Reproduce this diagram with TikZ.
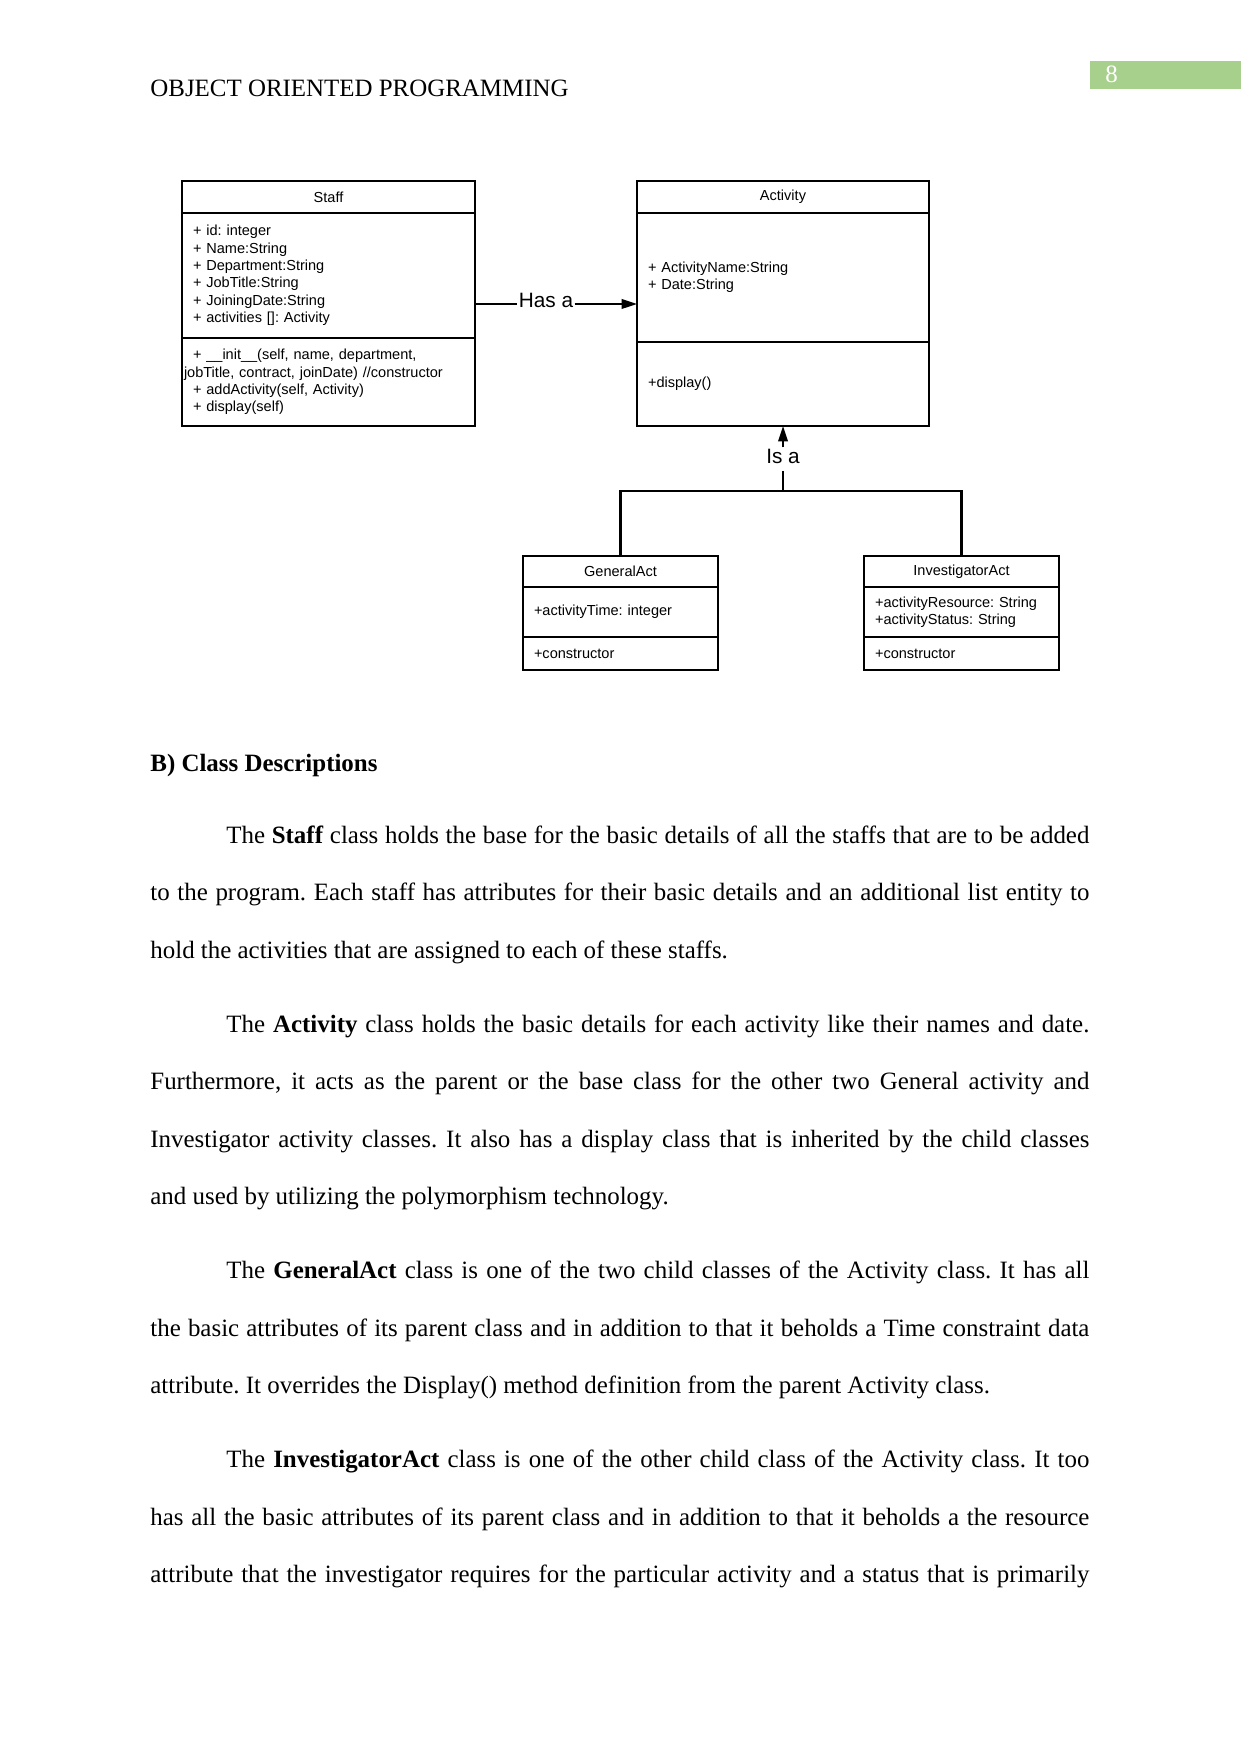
\documentclass[tikz,border=0pt]{standalone}
\usepackage{fontspec}
\setmainfont{Liberation Serif}
\newfontfamily\umlfont{Liberation Sans}
\usetikzlibrary{arrows.meta, positioning}
\definecolor{pagegreen}{HTML}{A8D08D}
\newlength{\pxu}
\setlength{\pxu}{0.0169218cm}
\frenchspacing

\begin{document}
\begin{tikzpicture}[
    x=\pxu, y=-\pxu,
    uml/.style={draw, line width=1pt, outer sep=0pt, inner ysep=0pt, font=\umlfont\fontsize{7}{8.4}\selectfont},
    head/.style={uml, align=center, inner xsep=0pt},
    part/.style={uml, align=left, inner xsep=11\pxu, text width=#1},
    rel/.style={font=\umlfont\fontsize{10}{12}\selectfont, inner sep=0.5pt},
    line/.style={line width=1pt},
    relarrow/.style={line, -{Triangle[length=2.6mm, width=1.6mm]}},
    txt/.style={font=\fontsize{12}{14.4}\selectfont, inner sep=0pt, anchor=base west}
  ]
  \useasboundingbox (0,0) rectangle (1241,1754);

  \fill[pagegreen] (1090,61) rectangle (1241,89);
  \node[txt, text=white] (pagenum) at (1105,83) {8};
  \node[txt] (runhead) at (150,97) {OBJECT ORIENTED PROGRAMMING};

  \node[head, minimum width=293\pxu, minimum height=32\pxu, anchor=north west] (staff) at (182,181) {Staff};
  \node[part=271\pxu, minimum height=125\pxu, below=0pt of staff] (staffattr) {+ id: integer\\+ Name:String\\+ Department:String\\+ JobTitle:String\\+ JoiningDate:String\\+ activities []: Activity};
  \node[part=271\pxu, minimum height=88\pxu, below=0pt of staffattr] (staffops) {+ \_\_init\_\_(self, name, department,\\\hspace*{-9\pxu}jobTitle, contract, joinDate) //constructor\\+ addActivity(self, Activity)\\+ display(self)};

  \node[head, minimum width=292\pxu, minimum height=32\pxu, anchor=north west] (act) at (637,181) {Activity};
  \node[part=270\pxu, minimum height=129\pxu, below=0pt of act] (actattr) {+ ActivityName:String\\+ Date:String};
  \node[part=270\pxu, minimum height=84\pxu, below=0pt of actattr] (actops) {+display()};

  \node[head, minimum width=195\pxu, minimum height=31\pxu, anchor=north west] (gen) at (523,556) {GeneralAct};
  \node[part=173\pxu, minimum height=50\pxu, below=0pt of gen] (genattr) {+activityTime: integer};
  \node[part=173\pxu, minimum height=33\pxu, below=0pt of genattr] (genops) {+constructor};

  \node[head, minimum width=195\pxu, minimum height=31\pxu, anchor=north west] (inv) at (864,556) {InvestigatorAct};
  \node[part=173\pxu, minimum height=50\pxu, below=0pt of inv] (invattr) {+activityResource: String\\+activityStatus: String};
  \node[part=173\pxu, minimum height=33\pxu, below=0pt of invattr] (invops) {+constructor};

  \node[rel] (hasa) at (546,300) {Has a};
  \coordinate (hasy) at (0,304);
  \draw[line] (staffattr.east |- hasy) -- (hasa.west |- hasy);
  \draw[relarrow] (hasa.east |- hasy) -- (actattr.west |- hasy);

  \node[rel] (isa) at (783,456) {Is a};
  \coordinate (fork) at (783,491);
  \draw[relarrow] (isa.north) -- (actops.south);
  \draw[line] ([yshift=-3pt]isa.south) -- (fork);
  \draw[line] (gen.north) |- (fork) -| (inv.north);

  \node[txt] (secthead) at (150,771) {\textbf{B) Class Descriptions}};

  \node[txt] (p1a) at (226,843) {\makebox[863\pxu][s]{The \textbf{Staff} class holds the base for the basic details of all the staffs that are to be added}};
  \node[txt] (p1b) at (150,900.6) {\makebox[939\pxu][s]{to the program. Each staff has attributes for their basic details and an additional list entity to}};
  \node[txt] (p1c) at (150,958.2) {hold the activities that are assigned to each of these staffs.};

  \node[txt] (p2a) at (226,1032) {\makebox[863\pxu][s]{The \textbf{Activity} class holds the basic details for each activity like their names and date.}};
  \node[txt] (p2b) at (150,1089.6) {\makebox[939\pxu][s]{Furthermore, it acts as the parent or the base class for the other two General activity and}};
  \node[txt] (p2c) at (150,1147.2) {\makebox[939\pxu][s]{Investigator activity classes. It also has a display class that is inherited by the child classes}};
  \node[txt] (p2d) at (150,1204.8) {and used by utilizing the polymorphism technology.};

  \node[txt] (p3a) at (226,1278.6) {\makebox[863\pxu][s]{The \textbf{GeneralAct} class is one of the two child classes of the Activity class. It has all}};
  \node[txt] (p3b) at (150,1336.2) {\makebox[939\pxu][s]{the basic attributes of its parent class and in addition to that it beholds a Time constraint data}};
  \node[txt] (p3c) at (150,1393.8) {attribute. It overrides the Display() method definition from the parent Activity class.};

  \node[txt] (p4a) at (226,1467.6) {\makebox[863\pxu][s]{The \textbf{InvestigatorAct} class is one of the other child class of the Activity class. It too}};
  \node[txt] (p4b) at (150,1525.2) {\makebox[939\pxu][s]{has all the basic attributes of its parent class and in addition to that it beholds a the resource}};
  \node[txt] (p4c) at (150,1582.8) {\makebox[939\pxu][s]{attribute that the investigator requires for the particular activity and a status that is primarily}};
\end{tikzpicture}
\end{document}
